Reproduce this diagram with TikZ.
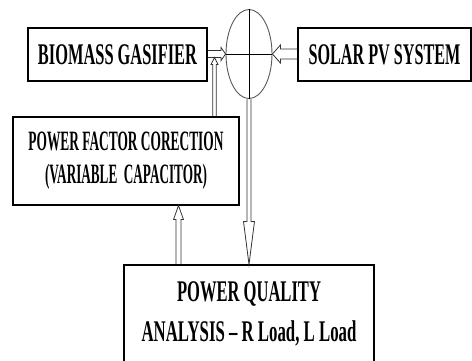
\documentclass[tikz,border=0pt]{standalone}
\usepackage{fontspec}
\setmainfont{Liberation Serif}
\usetikzlibrary{shapes.geometric,calc}
\newcommand\sqz[2]{\resizebox{#1}{\height}{#2}}
\newcommand\harrow[5]{%
  \coordinate (hC) at ($(#2)!#5!(#1)$);
  \draw[hollow] ($(#1)!#3!90:(#2)$) -- ($(hC)!#3!-90:(#1)$) -- ($(hC)!#4!-90:(#1)$) -- (#2)
    -- ($(hC)!#4!90:(#1)$) -- ($(hC)!#3!90:(#1)$) -- ($(#1)!#3!-90:(#2)$);}
\tikzset{
  box/.style={draw=black, line width=1.1pt, inner sep=0pt, align=center, font=\bfseries},
  hollow/.style={draw=black!80, line width=0.8pt, line join=miter},
}
\begin{document}
\begin{tikzpicture}[x=1pt,y=-1pt]
\useasboundingbox[fill=white] (0,0) rectangle (472,360);
\node[box, minimum width=179pt, minimum height=53pt, font=\bfseries\fontsize{30}{30}\selectfont] (bio) at (117.5,54.5) {\sqz{159pt}{BIOMASS GASIFIER}};
\node[box, minimum width=173pt, minimum height=53pt, font=\bfseries\fontsize{30}{30}\selectfont] (solar) at (384.5,54.5) {\sqz{152pt}{SOLAR PV SYSTEM}};
\node[draw=black!65, line width=0.9pt, ellipse, minimum width=46pt, minimum height=89pt, inner sep=0pt] (sum) at (249,54) {};
\draw[line width=0.8pt] (sum.north) -- (sum.south);
\draw[line width=0.8pt] (sum.west) -- (sum.east);
\node[box, minimum width=226pt, minimum height=88pt, font=\bfseries\fontsize{28}{33}\selectfont] (pfc) at (126,161) {\sqz{195pt}{POWER FACTOR CORECTION}\\\sqz{162pt}{(VARIABLE\ \ CAPACITOR)}};
\node[box, minimum width=250pt, minimum height=97pt, font=\bfseries\fontsize{30}{40}\selectfont] (pq) at (249,313.5) {\sqz{144pt}{POWER QUALITY}\\\sqz{215pt}{ANALYSIS -- R Load, L Load}};
% arrows
\coordinate (bioE) at (bio.east |- sum.west);
\harrow{bioE}{sum.west}{3.5pt}{6.5pt}{4.5pt}
\coordinate (solW) at (solar.west |- sum.east);
\harrow{solW}{sum.east}{5pt}{9pt}{8pt}
\coordinate (pqT) at (sum.south |- pq.north);
\harrow{sum.south}{pqT}{2pt}{5.5pt}{43pt}
\path (178.5,0) coordinate (c1) (214.5,57.5) coordinate (c2);
\coordinate (pqA) at (c1 |- pq.north);
\coordinate (pfcA) at (c1 |- pfc.south);
\harrow{pqA}{pfcA}{2.5pt}{5pt}{14pt}
\coordinate (pfcB) at (c2 |- pfc.north);
\harrow{pfcB}{c2}{1.8pt}{3.5pt}{7pt}
\end{tikzpicture}
\end{document}
